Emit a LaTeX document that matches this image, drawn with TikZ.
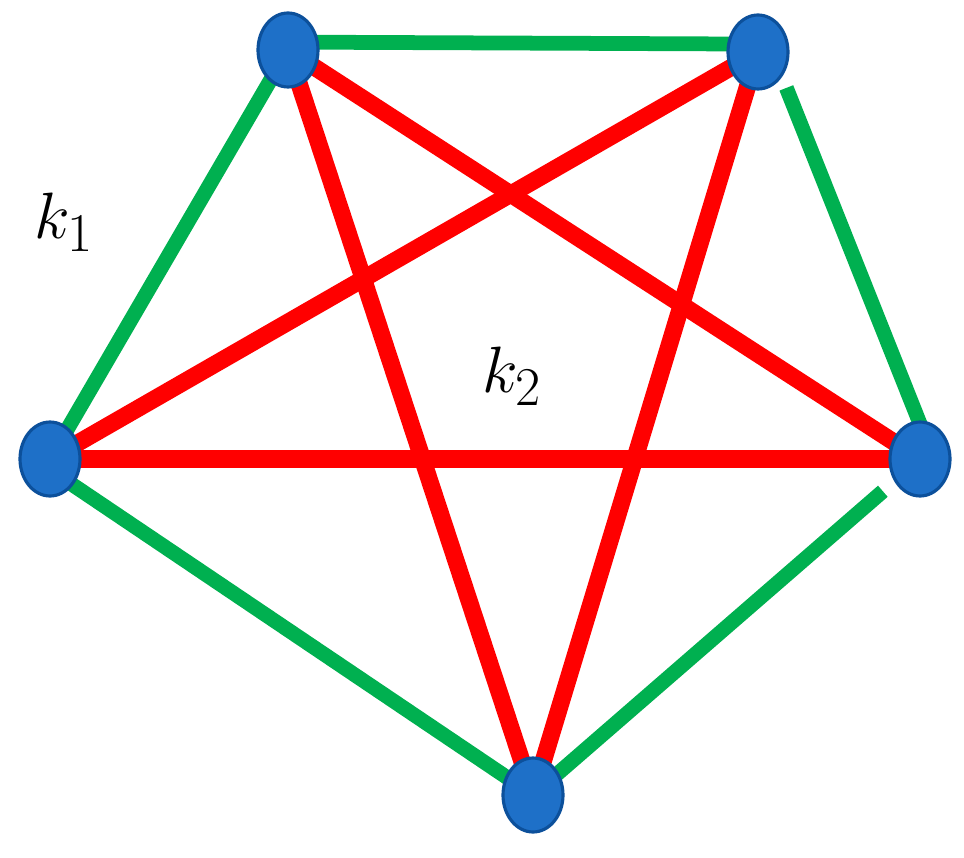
\documentclass[tikz,border=0pt]{standalone}
\usetikzlibrary{shapes.geometric}
\definecolor{vblue}{RGB}{30,112,200}
\definecolor{vborder}{RGB}{12,80,155}
\definecolor{egreen}{RGB}{0,176,80}
\definecolor{ered}{RGB}{255,0,0}
\begin{document}
\begin{tikzpicture}[x=0.02cm, y=-0.02cm, main node/.style={ellipse,draw=vborder,fill=vblue,line width=1.8pt,minimum width=1.2cm,minimum height=1.48cm,inner sep=0pt},
  outer/.style={draw=egreen,line width=8.4pt},
  inner/.style={draw=ered,line width=9.8pt}]
\useasboundingbox (0,0) rectangle (964,858);
% vertices
\coordinate (tl) at (288,50);
\coordinate (tr) at (758,52);
\coordinate (l) at (50,459);
\coordinate (r) at (920,459);
\coordinate (b) at (533,795);
% outer cycle
\path[outer]
	([yshift=4.5pt]tl) edge ([yshift=4.5pt]tr)
	(tl) edge (l)
	([xshift=8pt]tr) edge[shorten <=22pt] ([xshift=8pt]r)
	([yshift=-6pt]l) edge (b)
	(b) edge[shorten >=28pt] (r)
	;
% inner star
\path[inner]
	(tl) edge (r)
	(tl) edge (b)
	(tr) edge (l)
	(tr) edge (b)
	(l) edge (r)
	;
\begin{scope}[every node/.style={main node}]
\node (vtl) at (tl) {};
\node (vtr) at (tr) {};
\node (vl) at (l) {};
\node (vr) at (r) {};
\node (vb) at (b) {};
\end{scope}
\begin{scope}[every node/.style={font=\Huge,scale=1.5,transform shape}]
\node (k1) at (64,222) {$k_1$};
\node (k2) at (512,376) {$k_2$};
\end{scope}
\end{tikzpicture}
\end{document}
